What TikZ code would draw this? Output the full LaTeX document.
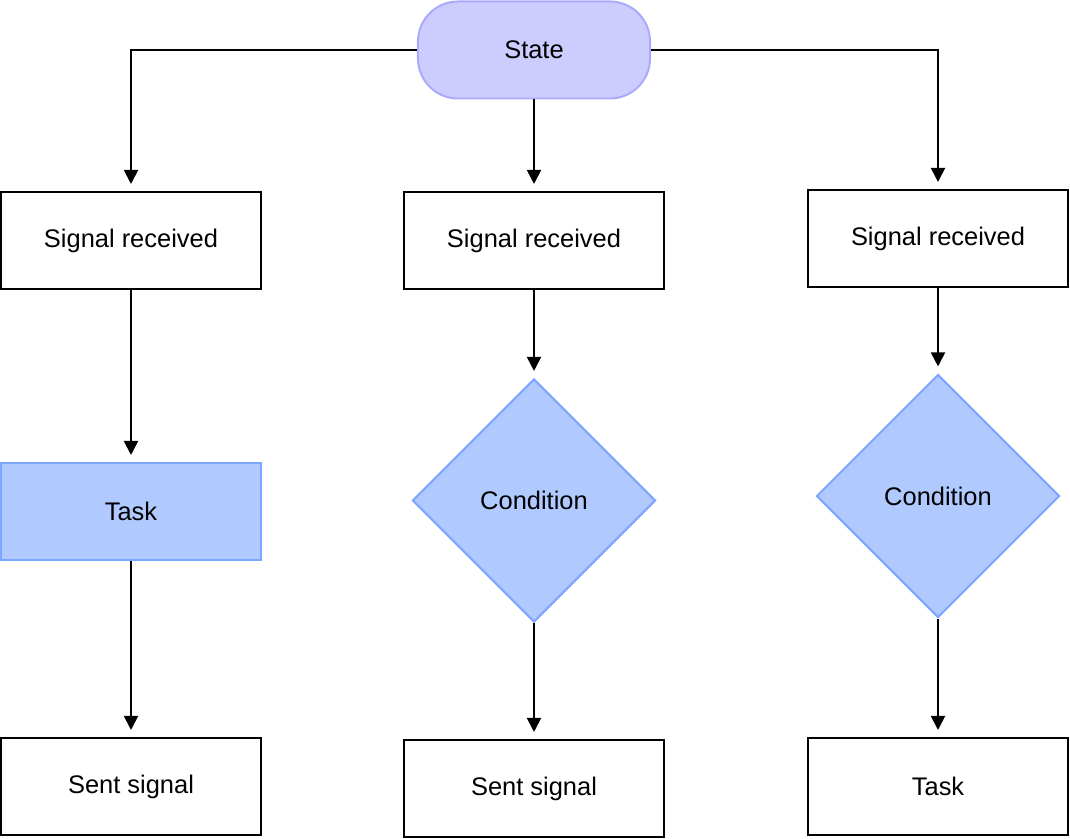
\documentclass[tikz,border=0pt]{standalone}
\usepackage{fontspec}
\setmainfont{Liberation Sans}
\usetikzlibrary{shapes.geometric,arrows.meta}
\definecolor{statefill}{RGB}{204,204,255}
\definecolor{stateline}{RGB}{170,170,250}
\definecolor{taskfill}{RGB}{176,202,255}
\definecolor{taskline}{RGB}{126,166,255}
\tikzstyle{box}=[draw, line width=1.4pt, minimum width=6.475cm, minimum height=2.425cm, font=\fontsize{18.1}{21}\selectfont]
\tikzset{statebox/.style={box, rounded corners=1cm, minimum width=5.8cm, fill=statefill, draw=stateline}}
\tikzset{taskbox/.style={box, fill=taskfill, draw=taskline}}
\tikzset{condbox/.style={box, diamond, aspect=1, inner sep=0pt, minimum width=6.075cm, minimum height=6.075cm, fill=taskfill, draw=taskline}}
\tikzstyle{arr}=[-{Triangle[length=10pt,width=10pt]}, line width=1.4pt, shorten >=5pt]

\begin{document}
\begin{tikzpicture}[x=0.025cm,y=-0.025cm]
  \useasboundingbox (0,0) rectangle (1070,839);
  \draw (534,50) node[statebox] (S) {State};

  \draw (131,240.5) node[box] (R1) {Signal received};
  \draw (534,240.5) node[box] (R2) {Signal received};
  \draw (938,238.5) node[box] (R3) {Signal received};

  \draw (131,511.5) node[taskbox] (T1) {Task};
  \draw (534,500.5) node[condbox] (C2) {Condition};
  \draw (938,496) node[condbox] (C3) {Condition};

  \draw (131,786.5) node[box] (O1) {Sent signal};
  \draw (534,788.5) node[box] (O2) {Sent signal};
  \draw (938,786.5) node[box] (T3) {Task};

  \draw[arr] (S) -| (R1);
  \draw[arr] (S) -- (R2);
  \draw[arr] (S) -| (R3);

  \draw[arr] (R1) -- (T1);
  \draw[arr] (R2) -- (C2);
  \draw[arr] (R3) -- (C3);

  \draw[arr] (T1) -- (O1);
  \draw[arr] (C2) -- (O2);
  \draw[arr] (C3) -- (T3);
\end{tikzpicture}
\end{document}
